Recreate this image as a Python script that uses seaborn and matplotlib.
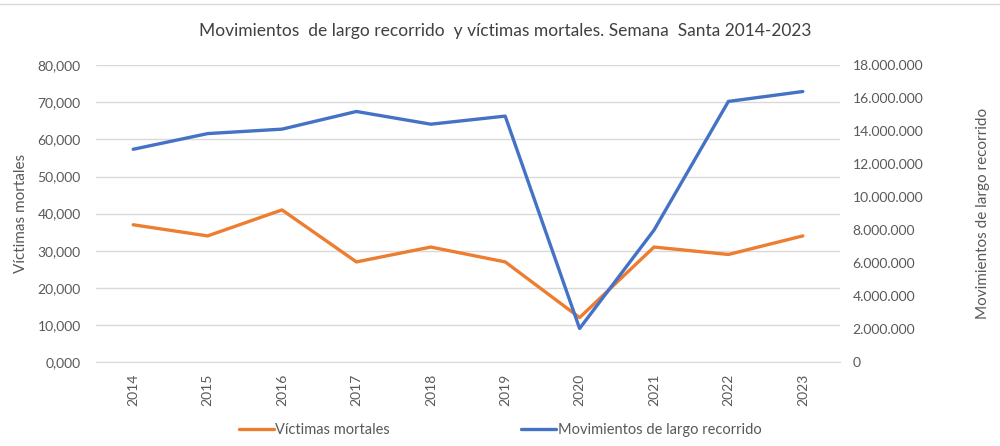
import matplotlib
matplotlib.use("Agg")
import matplotlib.pyplot as plt
import seaborn as sns
import pandas as pd
from matplotlib.ticker import FuncFormatter, MultipleLocator
from matplotlib.lines import Line2D

years = ['2014', '2015', '2016', '2017', '2018', '2019', '2020', '2021', '2022', '2023']
victimas = [37, 34, 41, 27, 31, 27, 12, 31, 29, 34]
movimientos = [12900000, 13850000, 14120000, 15190000, 14420000, 14910000,
               2040000, 8000000, 15800000, 16400000]

df = pd.DataFrame({'pos': range(len(years)), 'year': years,
                   'victimas': victimas, 'movimientos': movimientos})

sns.set_style('white')
plt.rcParams['font.family'] = ['Lato', 'DejaVu Sans']
txt = '#595959'
orange = '#ED7D31'
blue = '#4472C4'

fig = plt.figure(figsize=(10, 4.46), dpi=100)
ax = fig.add_axes([0.096, 0.188, 0.744, 0.666])
ax2 = ax.twinx()

sns.lineplot(data=df, x='pos', y='victimas', ax=ax, color=orange, linewidth=2.4)
sns.lineplot(data=df, x='pos', y='movimientos', ax=ax2, color=blue, linewidth=2.4)

ax.set_ylim(0, 80)
ax.yaxis.set_major_locator(MultipleLocator(10))
ax.yaxis.set_major_formatter(FuncFormatter(lambda v, p: f'{v:.3f}'.replace('.', ',')))
ax2.set_ylim(0, 18000000)
ax2.yaxis.set_major_locator(MultipleLocator(2000000))
ax2.yaxis.set_major_formatter(FuncFormatter(lambda v, p: f'{int(v):,}'.replace(',', '.')))

ax.set_xlim(-0.5, len(years) - 0.5)
ax.set_xticks(df['pos'])
ax.set_xticklabels(years, rotation=90)

ax.grid(axis='y', color='#d9d9d9', linewidth=1)
ax.set_axisbelow(True)
for a in (ax, ax2):
    for s in a.spines.values():
        s.set_visible(False)
    a.tick_params(length=0, labelsize=10, colors=txt)
ax.spines['bottom'].set_visible(True)
ax.spines['bottom'].set_color('#d9d9d9')
ax.tick_params(axis='y', pad=11)
ax2.tick_params(axis='y', pad=9)
ax.tick_params(axis='x', pad=8)

ax.set_xlabel('')
ax.set_ylabel('Víctimas mortales', color=txt, fontsize=11, labelpad=7)
ax2.set_ylabel('Movimientos de largo recorrido', color=txt, fontsize=11, labelpad=38)

fig.text(0.505, 0.93, 'Movimientos  de largo recorrido  y víctimas mortales. Semana  Santa 2014-2023',
         ha='center', va='center', fontsize=12.5, color='#404040')

handles = [Line2D([], [], color=orange, lw=2.4), Line2D([], [], color=blue, lw=2.4)]
fig.legend(handles, ['Víctimas mortales', 'Movimientos de largo recorrido'],
           loc='center', bbox_to_anchor=(0.5, 0.035), ncol=2, frameon=False,
           fontsize=10.5, labelcolor=txt, columnspacing=9, handlelength=2.4,
           handletextpad=0.1)

fig.add_artist(Line2D([0.0, 1.0], [0.99, 0.99], color='#d9d9d9', lw=1,
                      transform=fig.transFigure))

fig.savefig('out.png', dpi=100)
